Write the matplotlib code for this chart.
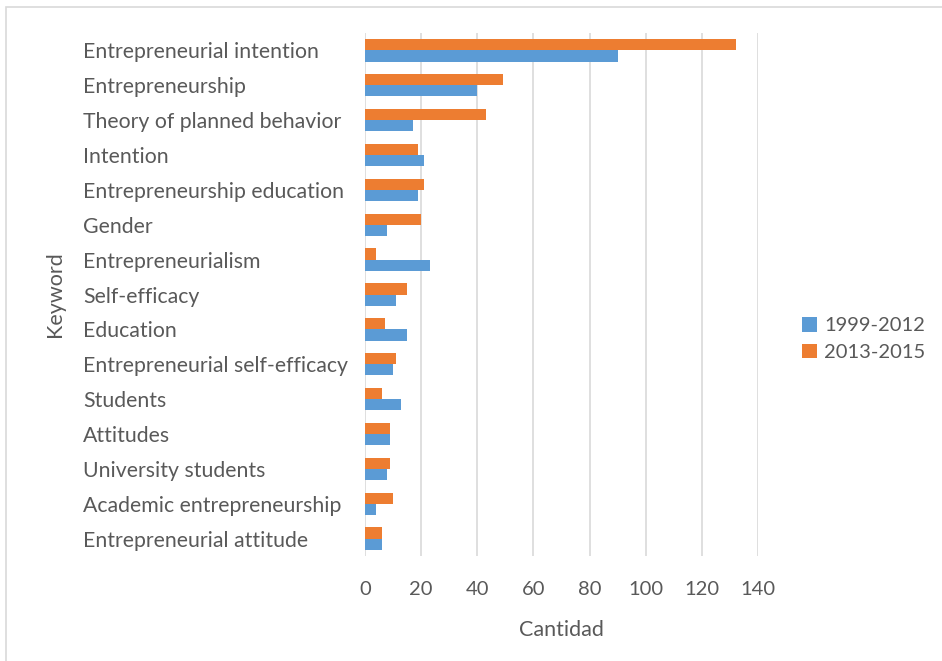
import matplotlib
matplotlib.use("Agg")
import matplotlib.pyplot as plt
import numpy as np
from matplotlib.patches import Rectangle

categories = ["Entrepreneurial intention", "Entrepreneurship", "Theory of planned behavior",
              "Intention", "Entrepreneurship education", "Gender", "Entrepreneurialism",
              "Self-efficacy", "Education", "Entrepreneurial self-efficacy", "Students",
              "Attitudes", "University students", "Academic entrepreneurship",
              "Entrepreneurial attitude"]
s1999 = [90, 40, 17, 21, 19, 8, 23, 11, 15, 10, 13, 9, 8, 4, 6]
s2013 = [132, 49, 43, 19, 21, 20, 4, 15, 7, 11, 6, 9, 9, 10, 6]
xticks = [0, 20, 40, 60, 80, 100, 120, 140]

plt.rcParams['font.family'] = ['Lato', 'DejaVu Sans']
W, H = 942, 661
fig = plt.figure(figsize=(W/100, H/100), dpi=100)
ax = fig.add_axes([365/W, 1-556/H, (758-365)/W, (556-33)/H])

n = len(categories)
y = np.arange(n)
bh = 0.32
c_blue = "#5B9BD5"
c_orange = "#ED7D31"
ax.barh(y + bh/2, s1999, height=bh, color=c_blue, label="1999-2012", zorder=3)
ax.barh(y - bh/2, s2013, height=bh, color=c_orange, label="2013-2015", zorder=3)
ax.set_ylim(n - 0.5, -0.5)
ax.set_xlim(0, 140)
ax.set_xticks(xticks)
ax.set_xticklabels([str(v) for v in xticks])
ax.set_yticks(y)
ax.set_yticklabels(categories, ha='left')
txtc = "#595959"
fs = 15.3
ax.tick_params(axis='y', length=0, pad=(365-83)*0.72, labelsize=fs, labelcolor=txtc)
ax.tick_params(axis='x', length=0, pad=18, labelsize=14.5, labelcolor=txtc)
ax.grid(axis='x', color="#D9D9D9", linewidth=1.2, zorder=0)
for s in ax.spines.values():
    s.set_visible(False)
ax.set_xlabel("Cantidad", fontsize=15.5, color=txtc, labelpad=16)
ax.set_ylabel("Keyword", fontsize=15.5, color=txtc)
ax.yaxis.set_label_coords((65-365)/(758-365), 0.5)

handles, labels = ax.get_legend_handles_labels()
fig.legend(handles, labels, loc='center left', bbox_to_anchor=(784/W, 1-339/H),
           frameon=False, fontsize=14.5, labelcolor=txtc, handlelength=0.75,
           handleheight=0.75, handletextpad=0.35, labelspacing=0.45)

fig.patches.append(Rectangle((6/W, -0.05), 1.1, 1 - 7/H + 0.05, transform=fig.transFigure,
                             fill=False, edgecolor="#D9D9D9", linewidth=1.2))
fig.savefig("out.png", dpi=100)
